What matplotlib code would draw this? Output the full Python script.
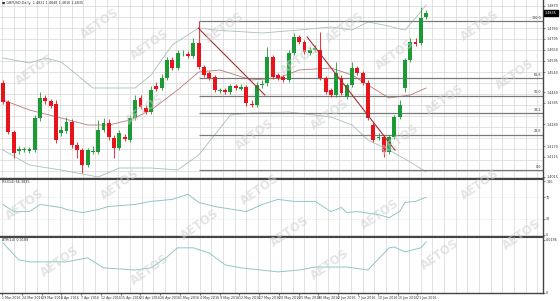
import matplotlib
matplotlib.use("Agg")
import matplotlib.pyplot as plt
import numpy as np

# ---- price data (daily candles) ----
opens = [1.4485, 1.4390, 1.4240, 1.4145, 1.4150, 1.4145, 1.4150, 1.4310, 1.4410, 1.4395,
         1.4380, 1.4235, 1.4245, 1.4290, 1.4175, 1.4150, 1.4075, 1.4140, 1.4140, 1.4250,
         1.4285, 1.4210, 1.4160, 1.4215, 1.4200, 1.4310, 1.4410, 1.4360, 1.4340, 1.4470,
         1.4460, 1.4510, 1.4600, 1.4560, 1.4633, 1.4630, 1.4620, 1.4685, 1.4565, 1.4535,
         1.4515, 1.4445, 1.4450, 1.4440, 1.4470, 1.4455, 1.4465, 1.4380, 1.4375, 1.4475,
         1.4485, 1.4615, 1.4525, 1.4515, 1.4500, 1.4635, 1.4715, 1.4690, 1.4635, 1.4650,
         1.4650, 1.4510, 1.4450, 1.4425, 1.4510, 1.4415, 1.4475, 1.4560, 1.4535, 1.4485,
         1.4275, 1.4210, 1.4215, 1.4140, 1.4215, 1.4315, 1.4460, 1.4600, 1.4690, 1.4685,
         1.4815]
highs = [1.4500, 1.4400, 1.4250, 1.4170, 1.4165, 1.4165, 1.4325, 1.4440, 1.4425, 1.4405,
         1.4400, 1.4270, 1.4315, 1.4305, 1.4190, 1.4160, 1.4160, 1.4170, 1.4300, 1.4310,
         1.4305, 1.4225, 1.4250, 1.4230, 1.4325, 1.4425, 1.4425, 1.4375, 1.4470, 1.4490,
         1.4530, 1.4615, 1.4615, 1.4650, 1.4650, 1.4645, 1.4710, 1.4795, 1.4575, 1.4545,
         1.4525, 1.4460, 1.4460, 1.4480, 1.4480, 1.4480, 1.4475, 1.4400, 1.4490, 1.4500,
         1.4665, 1.4625, 1.4535, 1.4525, 1.4650, 1.4735, 1.4725, 1.4700, 1.4665, 1.4675,
         1.4740, 1.4520, 1.4460, 1.4590, 1.4525, 1.4485, 1.4590, 1.4570, 1.4545, 1.4500,
         1.4290, 1.4235, 1.4225, 1.4225, 1.4325, 1.4400, 1.4610, 1.4710, 1.4710, 1.4865,
         1.4850]
lows = [1.4380, 1.4230, 1.4110, 1.4130, 1.4140, 1.4135, 1.4140, 1.4295, 1.4380, 1.4360,
        1.4185, 1.4220, 1.4235, 1.4160, 1.4110, 1.4035, 1.4065, 1.4130, 1.4130, 1.4240,
        1.4200, 1.4110, 1.4150, 1.4195, 1.4190, 1.4300, 1.4355, 1.4330, 1.4330, 1.4445,
        1.4450, 1.4500, 1.4550, 1.4550, 1.4620, 1.4610, 1.4610, 1.4555, 1.4515, 1.4500,
        1.4440, 1.4435, 1.4430, 1.4430, 1.4450, 1.4450, 1.4370, 1.4365, 1.4365, 1.4460,
        1.4470, 1.4505, 1.4500, 1.4490, 1.4490, 1.4625, 1.4680, 1.4630, 1.4625, 1.4640,
        1.4500, 1.4430, 1.4415, 1.4415, 1.4425, 1.4405, 1.4465, 1.4525, 1.4475, 1.4300,
        1.4190, 1.4200, 1.4115, 1.4130, 1.4205, 1.4305, 1.4440, 1.4590, 1.4670, 1.4675,
        1.4805]
closes = [1.4390, 1.4240, 1.4135, 1.4155, 1.4155, 1.4155, 1.4310, 1.4410, 1.4395, 1.4370,
          1.4200, 1.4250, 1.4290, 1.4175, 1.4150, 1.4075, 1.4150, 1.4145, 1.4250, 1.4285,
          1.4215, 1.4160, 1.4235, 1.4205, 1.4310, 1.4400, 1.4365, 1.4340, 1.4450, 1.4455,
          1.4510, 1.4600, 1.4560, 1.4635, 1.4637, 1.4620, 1.4685, 1.4565, 1.4525, 1.4510,
          1.4450, 1.4447, 1.4440, 1.4470, 1.4460, 1.4465, 1.4385, 1.4375, 1.4475, 1.4480,
          1.4615, 1.4515, 1.4510, 1.4500, 1.4635, 1.4715, 1.4690, 1.4640, 1.4650, 1.4660,
          1.4510, 1.4440, 1.4425, 1.4535, 1.4435, 1.4475, 1.4560, 1.4535, 1.4485, 1.4310,
          1.4200, 1.4215, 1.4140, 1.4215, 1.4315, 1.4375, 1.4600, 1.4690, 1.4680, 1.4810,
          1.4835]

# ---- bands / moving average (candle index, price) ----
upper_idx = [0, 5, 8, 11, 17, 25, 28, 32, 37, 40, 49, 56, 62, 66, 69, 72, 76, 78, 80]
upper_val = [1.4610, 1.4585, 1.4610, 1.4590, 1.4460, 1.4460, 1.4525, 1.4675, 1.4760, 1.4750,
             1.4735, 1.4750, 1.4765, 1.4750, 1.4790, 1.4775, 1.4750, 1.4810, 1.4875]
ma_idx = [0, 5, 11, 16, 20, 24, 28, 33, 37, 41, 47, 52, 56, 62, 66, 69, 73, 77, 80]
ma_val = [1.4400, 1.4350, 1.4310, 1.4275, 1.4275, 1.4300, 1.4350, 1.4450, 1.4540, 1.4550,
          1.4500, 1.4510, 1.4550, 1.4560, 1.4525, 1.4475, 1.4410, 1.4425, 1.4460]
lower_idx = [0, 5, 11, 18, 22, 28, 33, 37, 43, 47, 54, 62, 66, 69, 73, 77, 80]
lower_val = [1.4150, 1.4075, 1.4050, 1.4015, 1.4060, 1.4060, 1.4050, 1.4125, 1.4325, 1.4335,
             1.4340, 1.4315, 1.4275, 1.4200, 1.4150, 1.4090, 1.4040]

# trend lines drawn on the chart
trend1_idx = [36.9, 49.5]
trend1_val = [1.4760, 1.4425]
trend2_idx = [57.5, 74.1]
trend2_val = [1.4715, 1.4150]

# fibonacci retracement
fib_start = 37
fib_high = 1.4795
fib_low = 1.4050
fib_levels = [0.0, 23.6, 38.2, 50.0, 61.8, 100.0]

# ---- RSI / ATR ----
rsi_idx = [0, 2, 5, 7, 11, 12, 15, 18, 20, 25, 28, 32, 35, 37, 40, 46, 49, 52, 55, 59,
           62, 64, 65, 67, 71, 73, 75, 76, 78, 80]
rsi_val = [56.6, 43.4, 43.4, 56.6, 50.9, 47.2, 41.5, 47.2, 52.8, 56.6, 62.3, 66.0, 75.5, 60.4,
           52.8, 43.4, 56.6, 66.0, 62.3, 62.3, 43.4, 50.9, 41.5, 43.4, 37.7, 32.1, 43.4, 60.4,
           62.3, 69.8]
atr_idx = [0, 3, 5, 12, 16, 19, 25, 28, 31, 33, 36, 39, 42, 45, 52, 56, 59, 65, 69, 73,
           74, 76, 79, 80]
atr_val = [0.0185, 0.0122, 0.0115, 0.0115, 0.0130, 0.0093, 0.0085, 0.0093, 0.0133, 0.0167,
           0.0167, 0.0148, 0.0104, 0.0093, 0.0078, 0.0085, 0.0096, 0.0096, 0.0085, 0.0167,
           0.0170, 0.0152, 0.0167, 0.0189]

price_ticks = [1.4870, 1.4760, 1.4705, 1.4650, 1.4595, 1.4540, 1.4440, 1.4385, 1.4280,
               1.4170, 1.4115, 1.4015]
date_labels = ["1 Mar 2016", "24 Mar 2016", "29 Mar 2016", "1 Apr 2016", "7 Apr 2016",
               "12 Apr 2016", "15 Apr 2016", "21 Apr 2016", "26 Apr 2016", "1 May 2016",
               "4 May 2016", "9 May 2016", "12 May 2016", "17 May 2016", "20 May 2016",
               "25 May 2016", "30 May 2016", "2 Jun 2016", "7 Jun 2016", "10 Jun 2016",
               "15 Jun 2016", "21 Jun 2016"]

GREEN = "#1b9a36"
RED = "#e8141c"
GRID = "#d6d6d6"
EDGE = "#444444"
FS = 2.4

fig = plt.figure(figsize=(5.6, 3.01), dpi=100)
W = 543 / 560
ax = fig.add_axes([0, 1 - 178 / 301, W, 178 / 301])
ax_rsi = fig.add_axes([0, 1 - 236 / 301, W, 57 / 301])
ax_atr = fig.add_axes([0, 1 - 293 / 301, W, 56 / 301])

xmin, xmax = -0.57, 102.1
grid_x = np.arange(-0.2, xmax, 2.2)
for a in (ax, ax_rsi, ax_atr):
    a.set_xlim(xmin, xmax)
    a.set_facecolor("white")
    for s in ("top", "left"):
        a.spines[s].set_visible(False)
    for s in ("bottom", "right"):
        a.spines[s].set_color(EDGE)
        a.spines[s].set_linewidth(1.0)
    a.yaxis.tick_right()
    a.tick_params(axis="y", labelsize=FS, length=1.5, width=0.4, pad=0.8, colors="#333333")
    for gx in grid_x:
        a.axvline(gx, color=GRID, lw=0.5, zorder=0)
ax_rsi.spines["top"].set_visible(True)
ax_rsi.spines["top"].set_color(EDGE)
ax_atr.spines["top"].set_visible(True)
ax_atr.spines["top"].set_color(EDGE)

# ---- main panel ----
ax.set_ylim(1.4010, 1.4900)
for gy in np.arange(1.4045, 1.4900, 0.0055):
    ax.axhline(gy, color=GRID, lw=0.5, zorder=0)
ax.set_xticks([])
ax.set_yticks(price_ticks)
ax.set_yticklabels([f"{v:.4f}" for v in price_ticks])

idx = np.arange(len(opens))
o = np.array(opens); c = np.array(closes)
cols = [GREEN if cc >= oo else RED for oo, cc in zip(o, c)]
ax.vlines(idx, lows, highs, colors=cols, lw=0.6, zorder=3)
body = np.maximum(np.abs(c - o), 0.0004)
ax.bar(idx, body, bottom=np.minimum(o, c), width=0.74, color=cols, zorder=4, linewidth=0)

ax.plot(upper_idx, upper_val, color="#a9bdbd", lw=0.6, zorder=2)
ax.plot(lower_idx, lower_val, color="#a9bdbd", lw=0.6, zorder=2)
ax.plot(ma_idx, ma_val, color="#b87878", lw=0.6, zorder=2)
ax.plot(trend1_idx, trend1_val, color="#a33030", lw=0.8, zorder=5)
ax.plot(trend2_idx, trend2_val, color="#a33030", lw=0.8, zorder=5)

for lv in fib_levels:
    y = fib_low + (fib_high - fib_low) * lv / 100
    ax.hlines(y, fib_start, xmax, color="#7a7a7a", lw=0.9, zorder=2)
    ax.text(xmax - 0.3, y + 0.0007, f"{lv:.1f}", fontsize=FS, ha="right", va="bottom",
            color="#333333")

ax.annotate(f"{closes[-1]:.4f}", xy=(1.0, closes[-1]), xycoords=("axes fraction", "data"),
            xytext=(1.5, 0), textcoords="offset points", fontsize=FS, color="white",
            va="center", ha="left",
            bbox=dict(boxstyle="square,pad=0.25", fc="black", ec="black"))
ax.text(0.004, 0.995, "\u25a0 GBPUSD,Daily  1.4822 1.4848 1.4816 1.4835", transform=ax.transAxes,
        fontsize=FS, va="top", ha="left", color="#333333")

# ---- RSI panel ----
ax_rsi.set_ylim(-1.9, 103.8)
ax_rsi.plot(rsi_idx, rsi_val, color="#92c6c6", lw=0.7)
ax_rsi.set_xticks([])
ax_rsi.set_yticks([100, 70, 30, 0])
ax_rsi.set_yticklabels(["100", "70", "30", "0"])
for lv in (70, 30):
    ax_rsi.axhline(lv, color="#c8c8c8", lw=0.4, ls=(0, (1, 2)), zorder=0)
ax_rsi.text(0.004, 0.98, "RSI(14) 66.3835", transform=ax_rsi.transAxes, fontsize=FS,
            va="top", ha="left", color="#333333")

# ---- ATR panel ----
ax_atr.set_ylim(0, 0.0207)
ax_atr.plot(atr_idx, atr_val, color="#92c6c6", lw=0.7)
ax_atr.set_yticks([0.0196, 0.0])
ax_atr.set_yticklabels(["0.0196", "0"])
ax_atr.text(0.004, 0.98, "ATR(14) 0.0189", transform=ax_atr.transAxes, fontsize=FS,
            va="top", ha="left", color="#333333")
label_pos = np.arange(len(date_labels)) * 3.74 - 0.2
ax_atr.set_xticks(label_pos)
ax_atr.set_xticklabels(date_labels, fontsize=2.3, ha="left", color="#333333")
ax_atr.tick_params(axis="x", length=1.5, width=0.4, pad=0.8)

# ---- watermark ----
marks = [(35, 70), (100, 24), (150, 45), (145, 110), (225, 28), (255, 135), (300, 60),
         (345, 28), (330, 115), (395, 55), (400, 140), (445, 100), (480, 26), (515, 75),
         (25, 205), (60, 262), (120, 185), (150, 270), (200, 225), (260, 190), (330, 265),
         (380, 215), (440, 255), (480, 185), (522, 235), (290, 232)]
for mx, my in marks:
    fig.text(mx / 560, 1 - my / 301, "AETOS", fontsize=8.5, fontweight="bold",
             color="#cfcfcf", alpha=0.55, rotation=35, ha="center", va="center", zorder=10)

fig.savefig("out.png", dpi=100, facecolor="white")
